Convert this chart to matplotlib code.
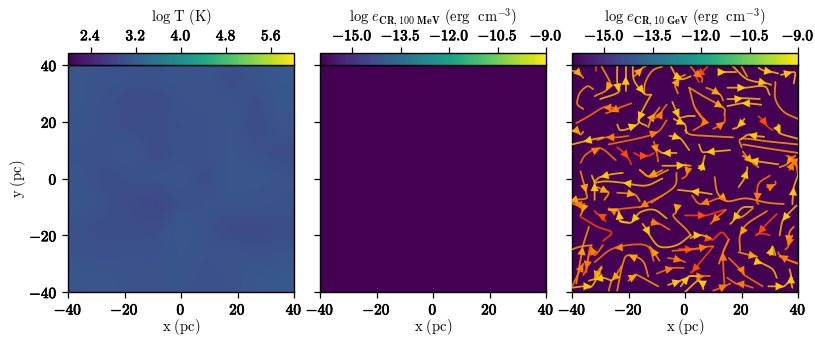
import numpy as np
import matplotlib
matplotlib.use("Agg")
import matplotlib.pyplot as plt
import matplotlib.patheffects as pe
from matplotlib.cm import ScalarMappable
from matplotlib.colors import Normalize

plt.rcParams['mathtext.fontset'] = 'cm'
plt.rcParams['font.family'] = ['DejaVu Serif']

extent_pc = [-40, 40, -40, 40]
xy_ticks = [-40, -20, 0, 20, 40]
logT_range = (2.0, 6.0)
logT_ticks = [2.4, 3.2, 4.0, 4.8, 5.6]
logE_range = (-16.0, -9.0)
logE_ticks = [-15.0, -13.5, -12.0, -10.5, -9.0]
titles = [r'$\mathrm{log\ T\ (K)}$',
          r'$\mathrm{log}\ \mathit{e}_{\mathbf{CR,100\ MeV}}\ \mathrm{(erg\ \ cm}^{\mathbf{-3}}\mathrm{)}$',
          r'$\mathrm{log}\ \mathit{e}_{\mathbf{CR,10\ GeV}}\ \mathrm{(erg\ \ cm}^{\mathbf{-3}}\mathrm{)}$']

# log T on a 10 pc grid; rows y = 40 ... -40, columns x = -40 ... 40
logT_field = np.array([
    [3.05, 3.04, 3.01, 3.01, 3.03, 3.03, 2.95, 3.03, 3.08],
    [3.05, 3.00, 2.94, 2.94, 3.01, 3.03, 3.03, 2.96, 3.07],
    [3.04, 2.99, 2.96, 2.96, 2.98, 3.00, 3.05, 2.94, 3.05],
    [3.00, 3.01, 3.05, 2.95, 3.00, 3.01, 3.05, 3.00, 2.94],
    [3.03, 2.95, 2.98, 3.02, 3.04, 2.95, 3.07, 3.07, 3.02],
    [3.05, 3.00, 2.93, 2.86, 2.98, 3.02, 3.03, 3.02, 3.01],
    [2.98, 2.94, 2.95, 2.96, 3.08, 3.01, 2.91, 2.92, 2.94],
    [3.01, 3.00, 3.01, 3.01, 3.05, 3.02, 3.04, 3.00, 3.02],
    [3.07, 3.05, 3.04, 3.02, 3.04, 2.99, 3.02, 3.08, 3.10],
])

# Streamlines of the right panel in pc: (index of the vertex carrying the arrow tip, vertices).
stream_yellow = [
    (2, [(-21, 31), (-21, 33), (-21, 36), (-21, 39.5)]),
    (2, [(-24, 39.5), (-24, 34), (-23.5, 30.5), (-30, 28)]),
    (2, [(-18.5, 39.5), (-18, 34.5), (-14.5, 30), (-12, 29.5)]),
    (2, [(-12, 29.5), (-14.5, 25), (-16.5, 20.5), (-13.5, 18.5)]),
    (2, [(-5, 39.5), (-3, 36), (-1, 35), (2, 36)]),
    (2, [(12, 37.5), (13, 37.5), (14.5, 37.5), (18, 37.5)]),
    (2, [(26, 39), (28, 38), (31, 37.5), (33, 37)]),
    (2, [(34, 36.5), (36, 37), (38, 37.5), (39, 37), (38.5, 33.5)]),
    (2, [(17, 39.5), (22, 35), (29, 33.5), (30.5, 33)]),
    (2, [(15, 32), (18, 32), (21.5, 32), (28, 32.5), (30, 29.5)]),
    (2, [(15, 28), (18, 28), (20.5, 28.3), (26.5, 28)]),
    (2, [(27, 26), (22, 26.5), (20, 26.5), (15, 25.5)]),
    (2, [(-4.5, 27), (-3, 23.5), (-2, 21.5), (1, 22), (3.5, 22)]),
    (2, [(-4, 21), (-2, 20), (0, 19), (0.5, 16)]),
    (2, [(-24, 19), (-22.5, 17), (-17, 19), (-16, 22.5)]),
    (2, [(-29, 14.5), (-33, 13.7), (-36, 13), (-40, 12)]),
    (2, [(-5.5, 15), (-3.5, 14.7), (-1.5, 14), (1.5, 10)]),
    (2, [(21, 21), (20, 19.5), (18.5, 18), (17, 17.5)]),
    (2, [(33, 19), (33.2, 17), (33.8, 15.8), (40, 14)]),
    (2, [(28, 14.7), (25, 15), (22.5, 15.5), (20, 14)]),
    (2, [(-3, 9), (-6, 9), (-8, 9), (-11, 11)]),
    (2, [(16, 10), (10, 9.5), (7.5, 9.3), (6, 9.5), (5, 12)]),
    (2, [(33, 5), (26, 6), (23, 6.5), (20.5, 8)]),
    (2, [(-8, 4.5), (-4, 4.5), (0, 4.7), (2, 4.5)]),
    (2, [(5, 4.5), (5.8, 3), (6.5, 6), (7, 8)]),
    (2, [(-22, 2), (-26, 1.5), (-30, 0.5), (-32, -1)]),
    (2, [(-8, 0), (-14, -2.5), (-22, -1.5), (-28, -1), (-32, -1.5)]),
    (2, [(-32, -7.5), (-32, -4), (-32, -1.5), (-33, 1)]),
    (2, [(9.5, -5.5), (5, -4.8), (2, -4.5), (-2.5, -4)]),
    (2, [(19, -3), (21, 0), (22, 3), (22, 4)]),
    (2, [(38, -9), (38.2, -6), (38.5, -3), (40, 1)]),
    (2, [(-20, -15.5), (-23, -15), (-23.5, -11.5), (-27, -11)]),
    (3, [(-6.5, -14), (-11, -11), (-16, -12), (-19, -15.5), (-23, -15)]),
    (2, [(-15, -16), (-13.5, -18), (-12.5, -20), (-9, -24), (-3, -23.5), (2, -20)]),
    (2, [(-6, -37.5), (-3, -36.5), (-1.5, -36)]),
    (2, [(6.5, -39), (5.5, -36.5), (4.5, -36), (0, -40)]),
    (2, [(-1.5, -38), (0, -36), (1.5, -34.5), (5, -34.5)]),
    (2, [(-40, -38.5), (-36, -38), (-33, -38), (-29.5, -31.5)]),
    (2, [(-26, -36), (-29, -35), (-32, -35.5), (-34, -36)]),
    (2, [(25, -30), (26, -29.5), (27.5, -30), (31, -32), (32.5, -35)]),
    (2, [(29.5, -38), (32, -38), (35, -38), (38, -35)]),
    (2, [(30, -27), (30.5, -25.5), (31, -24), (32, -27)]),
    (2, [(38, -38.5), (37.5, -36), (37.5, -34), (37, -32)]),
    (2, [(39.5, -9.5), (36, -13), (34.5, -15), (33.5, -20)]),
    (2, [(24, -10), (20, -10.5), (17, -15), (16, -16)]),
    (2, [(2, -21), (4, -20), (6, -20), (9, -21)]),
]
stream_gold = [
    (2, [(-29.5, 39.5), (-26.5, 33.5), (-28, 31), (-31, 29.5), (-32, 29)]),
    (0, [(-36, 24.5), (-38, 26), (-38, 28), (-37, 30.5), (-34.5, 32.5), (-32.5, 31.5)]),
    (0, [(-8, 39.5), (-11.5, 38), (-14, 34), (-14.5, 30)]),
    (2, [(-18, 36), (-17, 37), (-15, 39), (-14, 39.5)]),
    (2, [(-2.5, 30), (-3.5, 33), (-2, 35.5), (0, 36.5)]),
    (0, [(20, 39.5), (22, 36)]),
    (0, [(32, 34), (32, 28), (35, 23.5), (40, 21)]),
    (2, [(7.5, 32), (10, 31), (12.5, 29.5), (13.5, 27.5)]),
    (2, [(1.5, 32), (6.5, 29), (13.5, 25), (14, 22.5)]),
    (0, [(1.5, 32), (3.5, 25), (7, 20)]),
    (2, [(-13, 18), (-12, 21), (-10.5, 23), (-9, 25)]),
    (0, [(0, 17), (2, 15.5), (8, 15), (17, 14.5)]),
    (2, [(-40, 17), (-38, 16.5), (-37, 15.5), (-36, 16.5)]),
    (0, [(20, 11), (20, 14), (30, 13), (40, 12)]),
    (0, [(20.5, 12), (30, 10.5), (40, 9)]),
    (2, [(20.5, 9.5), (22, 7.5), (24, 5.5), (26, 4)]),
    (2, [(39, 8), (37.5, 7), (36, 5), (33.5, 4)]),
    (2, [(-37, 2.5), (-36, -1), (-35, -5), (-35, -7), (-39.5, -7.5)]),
    (0, [(-16, 3), (-12, 0.5), (-6, 3)]),
    (2, [(-31, -3), (-29, -4), (-27, -5), (-28.5, -7.5)]),
    (2, [(-24, -5), (-20, -5.3), (-17.5, -5.8), (-16, -8)]),
    (0, [(-3, 2), (-3.5, -2.5), (-8, -6), (-12, -8.5)]),
    (2, [(-2, -10), (-3, -11), (-3.2, -12), (-4, -13.5), (0.5, -18), (2, -20)]),
    (2, [(10.5, 0.5), (11.5, -5), (14.8, -8), (21.5, -7), (29, -8.5), (35, -9)]),
    (2, [(29, -11.5), (22, -16), (19.5, -20), (19.5, -25.5)]),
    (0, [(24, -10.5), (21, -13), (19, -14)]),
    (2, [(19, -26), (23, -27), (25.5, -27.5)]),
    (0, [(33.5, -27.5), (36, -28.5), (40, -30)]),
    (2, [(38.5, -17), (37, -19), (36.5, -23)]),
    (2, [(-20, -36), (-18, -34.5), (-17, -34), (-9.5, -38)]),
    (2, [(-13, -34.5), (-15, -29), (-20, -27), (-22, -30), (-24, -39.5)]),
    (2, [(-22.5, -31), (-25, -35), (-26, -36), (-27, -39.5)]),
    (2, [(-38.5, -37), (-36.5, -26), (-36.2, -24), (-34, -17)]),
    (0, [(-40, -25), (-37, -24), (-33, -23.5)]),
    (2, [(-29.5, -31), (-31, -33), (-32, -35.5)]),
    (2, [(-9, -29), (-11, -26), (-12, -24.5), (-12.5, -24)]),
    (2, [(-35, -10), (-36, -10.5), (-36.5, -12), (-37, -13)]),
    (2, [(-40, -7.5), (-38, -8.5), (-37.5, -9), (-36, -9.5)]),
    (2, [(-40, 38), (-38, 37.5), (-36.5, 36), (-36, 35.5)]),
    (2, [(-8, 3), (-10, 2), (-13, 0.8), (-16, 3)]),
    (0, [(12, -30), (13.5, -26), (15.5, -21.5)]),
]
stream_orange = [
    (2, [(-23.5, 24.5), (-26, 25), (-29, 25), (-34, 22), (-38.5, 19.5)]),
    (2, [(-19, 26.5), (-23, 25), (-26.5, 23.5), (-28, 23)]),
    (2, [(-12, 21), (-9, 22), (-8, 24), (-6.5, 26)]),
    (2, [(-27, 12), (-15, 14.5), (-9.5, 16.5), (-6.5, 20.5)]),
    (2, [(-20, 15), (-24, 14.5), (-28, 14.5), (-31, 13.5)]),
    (2, [(-37, 5.5), (-35, 8.5), (-30, 10.7), (-24.5, 6.5)]),
    (2, [(-11, 13), (-10.5, 11), (-10, 9), (-9.5, 6)]),
    (2, [(3.5, 25), (7, 20), (5.5, 18.5), (3, 17)]),
    (2, [(10, 17.5), (12, 18.5), (14, 20), (14, 22.5)]),
    (2, [(2, 39.5), (4, 37), (6, 35.5), (6, 34)]),
    (2, [(37, 3), (38, 5), (38.5, 6), (40, 4)]),
    (2, [(-16, -10), (-26, -11), (-27, -10.5)]),
    (2, [(-8, -6), (-13, -8.5), (-16, -10.2)]),
    (2, [(15, -8), (12, -7), (5.5, -9), (2.5, -6)]),
    (2, [(30, 1), (26, -2), (25.5, -8), (26, -9)]),
    (2, [(-35.5, -9), (-37.5, -9.2), (-39.5, -9), (-40, -8)]),
    (2, [(-33, -25), (-34, -27), (-35, -32), (-36, -34)]),
    (2, [(-29, -23.5), (-32, -27), (-33.5, -24), (-35, -33)]),
    (2, [(-11, -29), (-14, -23.5), (-25, -24.5), (-32, -29.5)]),
    (2, [(-9.5, -16), (-12, -15.3), (-9, -16), (-5.5, -18)]),
    (2, [(-10, -33.5), (-6, -32), (-4, -31.5), (-0.5, -31.5)]),
    (2, [(-6, -28), (-3, -28.5), (-1, -29), (0, -29.5)]),
    (2, [(-4.5, -25.5), (2, -25), (8, -24), (10, -24)]),
    (2, [(1.5, -34.5), (5, -34.5), (7, -34.5), (9, -34.5)]),
    (2, [(14, -38), (13.5, -30), (13.5, -26), (15.5, -21.5)]),
    (2, [(14.5, -11), (11, -14), (9.5, -15.5), (9, -16)]),
    (2, [(15.5, -28), (20.5, -33), (21, -34), (27.5, -38)]),
    (2, [(24, -38.5), (20, -37.2), (18, -37), (15, -35)]),
    (2, [(10, -39.5), (12, -38.8), (15, -37.5), (16, -37)]),
    (2, [(29, -3), (31, -2.5), (32, -2), (32, -1)]),
    (2, [(40, -30), (36, -28.5), (33.5, -27), (33, -26)]),
    (2, [(38, -20), (37, -22), (36.5, -24), (35.5, -25)]),
    (2, [(0, 5), (1, 3), (0.5, 1), (-1, 0)]),
    (2, [(36, 8), (38.5, 7), (39.5, 4), (40, 1)]),
    (2, [(-40, -38), (-38, -34), (-36, -30)]),
]
stream_red = [
    (0, [(-31.5, 38), (-31.5, 39), (-31.5, 39.8)]),
    (2, [(-24, 11), (-21.5, 9), (-20, 7), (-19, 5)]),
    (2, [(-18, 9), (-16, 8), (-13, 8), (-11, 9)]),
    (2, [(26, 22), (28, 20), (29, 18.5), (31, 17)]),
    (2, [(8, 39.5), (6, 37.5), (4, 36), (5, 34)]),
    (2, [(-28, -15), (-30, -13), (-31, -12.5), (-32, -11.5)]),
    (0, [(-37, -13.5), (-31, -17), (-26, -19), (-29, -22)]),
    (2, [(0, -13), (4, -13), (7.5, -13), (14, -11)]),
    (2, [(7.5, -21), (9, -21.3), (10, -21.5), (13, -19), (15.5, -21.5)]),
    (2, [(32.5, -12.5), (28, -17), (26, -19.5), (25, -20)]),
    (0, [(25.5, -19.5), (28, -19.5), (30, -20)]),
    (2, [(-2, -25), (1, -25), (3, -25), (5, -25)]),
    (2, [(10, -24), (5, -30), (2.5, -33), (2, -33)]),
]
level_yellow, level_gold, level_orange, level_red = 0.74, 0.60, 0.45, 0.25

W, H = 815.0, 337.0
ax_lefts_px = [68, 320, 572]
ax_w_px, ax_top_px, ax_bottom_px = 226, 65, 292
cb_top_px = 53


def smooth(vertices, n=10):
    """Catmull-Rom curve through the traced vertices, so the strokes bend like the reference."""
    p = np.array(vertices, float)
    p = np.vstack([2 * p[0] - p[1], p, 2 * p[-1] - p[-2]])
    t = np.linspace(0, 1, n, endpoint=False)[:, None]
    out = []
    for a, b, c, d in zip(p[:-3], p[1:-2], p[2:-1], p[3:]):
        out.append(0.5 * (2 * b + (c - a) * t + (2 * a - 5 * b + 4 * c - d) * t ** 2
                          + (3 * b - a - 3 * c + d) * t ** 3))
    out.append(p[-2][None, :])
    return np.vstack(out)


fig = plt.figure(figsize=(W / 100, H / 100), dpi=100)
axes, caxes = [], []
for left in ax_lefts_px:
    axes.append(fig.add_axes([left / W, 1 - ax_bottom_px / H, ax_w_px / W, (ax_bottom_px - ax_top_px) / H]))
    caxes.append(fig.add_axes([left / W, 1 - ax_top_px / H, ax_w_px / W, (ax_top_px - cb_top_px) / H]))

axes[0].imshow(logT_field, extent=extent_pc, origin='upper', cmap='viridis',
               vmin=logT_range[0], vmax=logT_range[1], interpolation='bilinear', aspect='auto')
for ax in axes[1:]:
    ax.imshow(np.full((2, 2), logE_range[0]), extent=extent_pc, cmap='viridis',
              vmin=logE_range[0], vmax=logE_range[1], aspect='auto')

cmap = matplotlib.colormaps['autumn']
ax3 = axes[2]
for group, lev in [(stream_gold, level_gold), (stream_red, level_red),
                   (stream_orange, level_orange), (stream_yellow, level_yellow)]:
    for at, path in group:
        curve = smooth(path)
        ax3.plot(curve[:, 0], curve[:, 1], color=cmap(lev), lw=1.3, alpha=0.85,
                 solid_capstyle='round', zorder=3)
        if at:
            ann = ax3.annotate('', xy=path[at], xytext=path[at - 1],
                               arrowprops=dict(arrowstyle='-|>,head_length=6,head_width=3',
                                               mutation_scale=1, shrinkA=0, shrinkB=0, lw=0,
                                               color=cmap(lev + 0.04), zorder=4))
            ann.arrow_patch.set_clip_box(ax3.bbox)

fmt_xy = lambda v: r'$\mathbf{%s%d}$' % ('-' if v < 0 else '', abs(v))
fmt_f = lambda v: r'$\mathbf{%s%.1f}$' % ('-' if v < 0 else '', abs(v))
bold = [pe.withStroke(linewidth=0.5, foreground='black')]

for i, ax in enumerate(axes):
    ax.set_xlim(-40, 40)
    ax.set_ylim(-40, 40)
    ax.set_xticks(xy_ticks)
    ax.set_xticklabels([fmt_xy(v) for v in xy_ticks], fontsize=11, path_effects=bold)
    ax.set_yticks(xy_ticks)
    ax.set_yticklabels([fmt_xy(v) for v in xy_ticks] if i == 0 else [], fontsize=11, path_effects=bold)
    ax.tick_params(length=4, width=0.9, pad=3.5)
    ax.set_xlabel(r'$\mathrm{x\ (pc)}$', fontsize=10.5, labelpad=0)
    for s in ax.spines.values():
        s.set_linewidth(1.0)
axes[0].set_ylabel(r'$\mathrm{y\ (pc)}$', fontsize=10.5, labelpad=1)

for i, cax in enumerate(caxes):
    rng, ticks = (logT_range, logT_ticks) if i == 0 else (logE_range, logE_ticks)
    cb = fig.colorbar(ScalarMappable(Normalize(*rng), 'viridis'), cax=cax, orientation='horizontal')
    cb.set_ticks(ticks)
    cb.set_ticklabels([fmt_f(v) for v in ticks], fontsize=11, path_effects=bold)
    cax.xaxis.set_ticks_position('top')
    cax.xaxis.set_label_position('top')
    cax.tick_params(length=4, width=0.9, pad=3)
    cb.outline.set_linewidth(1.0)
    cax.set_xlabel(titles[i], fontsize=10.5, labelpad=5)

fig.savefig('out.png', dpi=100)
